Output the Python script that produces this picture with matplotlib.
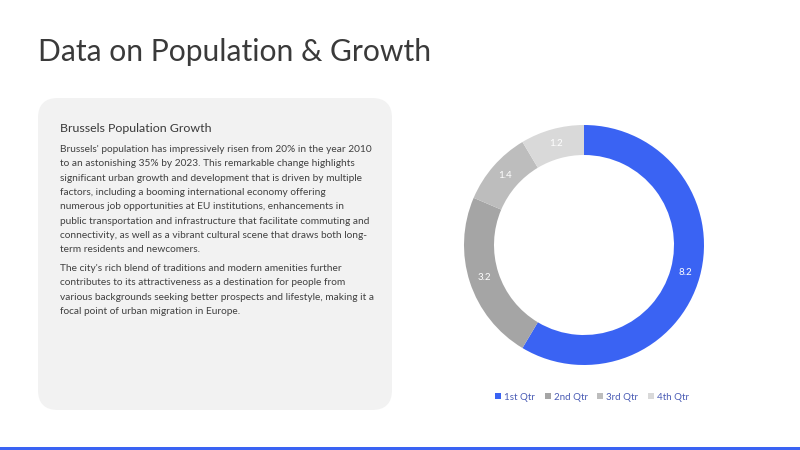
import matplotlib.pyplot as plt
import numpy as np
from matplotlib.patches import FancyBboxPatch, Rectangle

# chart data
quarters = ["1st Qtr", "2nd Qtr", "3rd Qtr", "4th Qtr"]
sales = [8.2, 3.2, 1.4, 1.2]
colors = ["#3a63f3", "#a5a5a5", "#bdbdbd", "#d9d9d9"]

title = "Data on Population & Growth"
card_heading = "Brussels Population Growth"
para_1 = [
    "Brussels' population has impressively risen from 20% in the year 2010",
    "to an astonishing 35% by 2023. This remarkable change highlights",
    "significant urban growth and development that is driven by multiple",
    "factors, including a booming international economy offering",
    "numerous job opportunities at EU institutions, enhancements in",
    "public transportation and infrastructure that facilitate commuting and",
    "connectivity, as well as a vibrant cultural scene that draws both long-",
    "term residents and newcomers.",
]
para_2 = [
    "The city's rich blend of traditions and modern amenities further",
    "contributes to its attractiveness as a destination for people from",
    "various backgrounds seeking better prospects and lifestyle, making it a",
    "focal point of urban migration in Europe.",
]

plt.rcParams["font.family"] = ["Lato", "DejaVu Sans"]

fig = plt.figure(figsize=(8, 4.5), dpi=100)

# background layer in pixel coordinates
bg = fig.add_axes([0, 0, 1, 1])
bg.set_xlim(0, 800)
bg.set_ylim(450, 0)
bg.axis("off")

bg.text(38, 52, title, fontsize=21.6, color="#3a3a3a", va="center", ha="left")

card = FancyBboxPatch((38, 98), 354, 312, boxstyle="round,pad=0,rounding_size=20",
                      facecolor="#f2f2f2", edgecolor="none")
bg.add_patch(card)
bg.add_patch(Rectangle((0, 446.5), 800, 4, facecolor="#3a63f3", edgecolor="none"))

bg.text(60, 128.5, card_heading, fontsize=8.9, color="#3a3a3a", va="center")
y = 149.5
for line in para_1:
    bg.text(60, y, line, fontsize=7.25, color="#404040", va="center")
    y += 14.3
y = 268.5
for line in para_2:
    bg.text(60, y, line, fontsize=7.25, color="#404040", va="center")
    y += 14.4

# donut
ax = fig.add_axes([464 / 800, 85 / 450, 240 / 800, 240 / 450])
wedges, _ = ax.pie(sales, colors=colors, startangle=90, counterclock=False,
                   radius=1, wedgeprops=dict(width=0.25, edgecolor="none"))
total = sum(sales)
angle = 90.0
for v in sales:
    span = v / total * 360
    mid = np.deg2rad(angle - span / 2)
    ax.text(0.875 * np.cos(mid), 0.875 * np.sin(mid), f"{v}", color="white",
            fontsize=7, ha="center", va="center")
    angle -= span
ax.set_xlim(-1, 1)
ax.set_ylim(-1, 1)
ax.set_aspect("equal")

leg = fig.legend(wedges, quarters, loc="center", bbox_to_anchor=(592 / 800, 1 - 397 / 450),
                 ncol=4, frameon=False, fontsize=7, handlelength=0.6, handleheight=0.6,
                 handletextpad=0.3, columnspacing=1.0)
for t in leg.get_texts():
    t.set_color("#4a5cb5")

fig.savefig("out.png", dpi=100)
